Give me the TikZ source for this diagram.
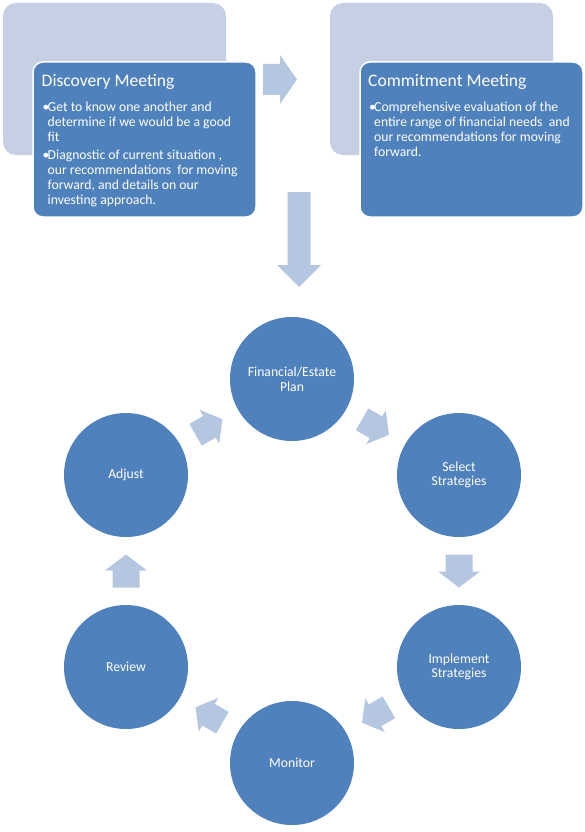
\documentclass[tikz,border=0pt]{standalone}
\usepackage{fontspec}
\setmainfont{Carlito}
\usetikzlibrary{calc}
\definecolor{mainblue}{RGB}{79,129,189}
\definecolor{backblue}{RGB}{197,208,228}
\definecolor{arrowblue}{RGB}{181,198,224}
\tikzset{
  backbox/.style={fill=backblue, rounded corners=13pt, minimum width=223pt, minimum height=152pt, inner sep=0pt},
  frontbox/.style={fill=mainblue, draw=white, line width=1.5pt, rounded corners=10pt, minimum width=223pt, minimum height=155pt, inner sep=0pt},
  titletext/.style={text=white, anchor=base west, inner sep=0pt, font=\fontsize{17.6}{21}\selectfont},
  bodytext/.style={text=white, anchor=base west, inner sep=0pt, font=\fontsize{13.7}{14.7}\selectfont},
  circ/.style={circle, fill=mainblue, minimum size=124pt, inner sep=0pt, text=white, align=center, font=\fontsize{13.7}{14.7}\selectfont},
  arrowfill/.style={fill=arrowblue}
}
% center, angle, length, shaft width, head width, head length
\newcommand\blockarr[6]{%
  \begin{scope}[shift={#1}, rotate=#2]
    \fill[arrowfill] (-#3/2,-#4/2) -- (#3/2-#6,-#4/2) -- (#3/2-#6,-#5/2) -- (#3/2,0)
      -- (#3/2-#6,#5/2) -- (#3/2-#6,#4/2) -- (-#3/2,#4/2) -- cycle;
  \end{scope}}
\begin{document}
\begin{tikzpicture}[x=1pt,y=-1pt]
\useasboundingbox (0,0) rectangle (585,832);

% top boxes
\node[backbox] (back1) at (114.5,79) {};
\node[frontbox] (front1) at (144.5,139.5) {};
\node[backbox] (back2) at (441.5,79) {};
\node[frontbox] (front2) at (471.5,139.5) {};

\node[titletext] (t1) at (41.5,87) {Discovery Meeting};
\node[bodytext] (b1) at (42.5,111.5) {•};
\node[bodytext] (l1a) at (47.5,111.5) {Get to know one another and};
\node[bodytext] (l1b) at (47.5,126.3) {determine if we would be a good};
\node[bodytext] (l1c) at (47.5,141.1) {fit};
\node[bodytext] (b2) at (42.5,159.7) {•};
\node[bodytext] (l2a) at (47.5,159.7) {Diagnostic of current situation ,};
\node[bodytext] (l2b) at (47.5,174.5) {our recommendations\ \ for moving};
\node[bodytext] (l2c) at (47.5,189.3) {forward, and details on our};
\node[bodytext] (l2d) at (47.5,204.1) {investing approach.};

\node[titletext] (t2) at (368,87) {Commitment Meeting};
\node[bodytext] (b3) at (369,111.5) {•};
\node[bodytext] (l3a) at (374,111.5) {Comprehensive evaluation of the};
\node[bodytext] (l3b) at (374,126.3) {entire range of financial needs\ \ and};
\node[bodytext] (l3c) at (374,141.1) {our recommendations for moving};
\node[bodytext] (l3d) at (374,156.3) {forward.};

% top arrows
\blockarr{(280,79.5)}{0}{34}{31}{49}{17}
\blockarr{(299,239.5)}{-90}{95}{23}{44}{22}

% cycle
\node[circ] (plan) at (292,379) {Financial/Estate\\Plan};
\node[circ] (select) at (459,475) {Select\\Strategies};
\node[circ] (impl) at (459,667) {Implement\\Strategies};
\node[circ] (monitor) at (292,763) {Monitor};
\node[circ] (review) at (126,667) {Review};
\node[circ] (adjust) at (126,475) {Adjust};

\blockarr{($(plan)!0.5!(select)$)}{-29.9}{31}{25}{39}{15}
\blockarr{($(select)!0.5!(impl)$)}{-90}{33}{27}{42}{16}
\blockarr{($(impl)!0.5!(monitor)$)}{-150.1}{31}{25}{39}{15}
\blockarr{($(monitor)!0.5!(review)$)}{150}{31}{25}{39}{15}
\blockarr{($(review)!0.5!(adjust)$)}{90}{33}{27}{42}{16}
\blockarr{($(adjust)!0.5!(plan)$)}{30}{31}{25}{39}{15}
\end{tikzpicture}
\end{document}
